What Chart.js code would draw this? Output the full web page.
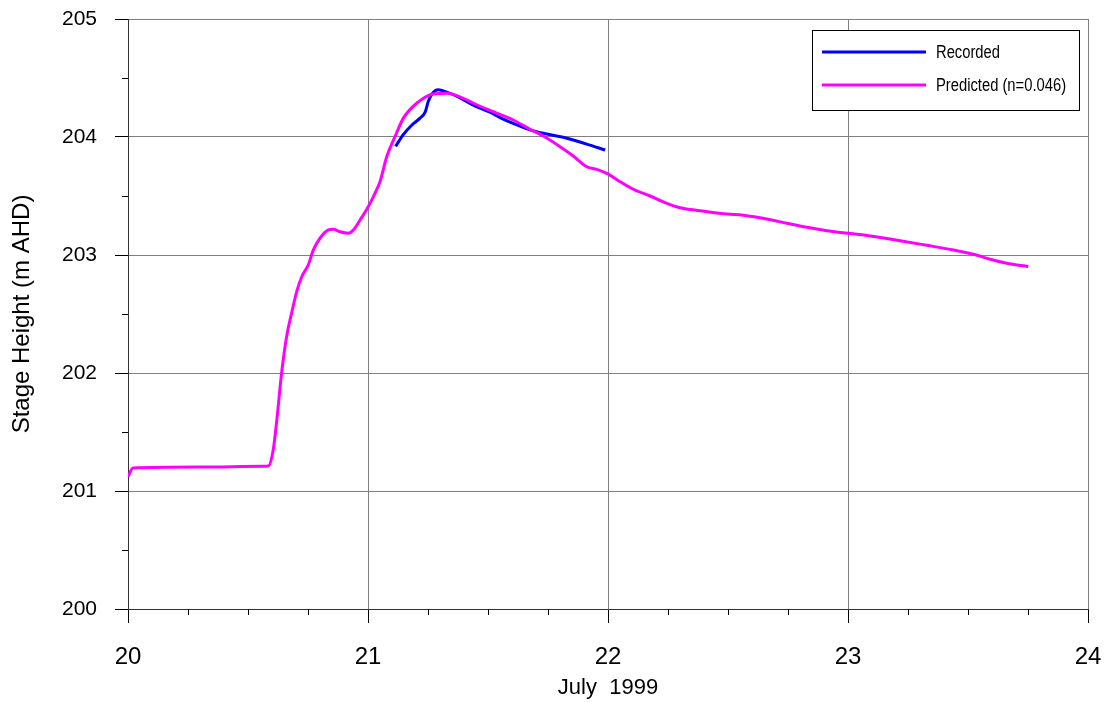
<!DOCTYPE html>
<html>
<head>
<meta charset="utf-8">
<script src="https://cdn.jsdelivr.net/npm/chart.js@4.4.1/dist/chart.umd.min.js"></script>
<style>
  html, body { margin: 0; padding: 0; background: #fff; }
  #wrap { width: 1106px; height: 702px; }
</style>
</head>
<body>
<div id="wrap"><canvas id="c" width="1106" height="702"></canvas></div>
<script>
// Day of July 1999 (decimal) and stage height (m AHD)
const recordedDay = [21.115, 21.147, 21.182, 21.217, 21.238, 21.251, 21.265, 21.293, 21.328, 21.376,
  21.439, 21.508, 21.55, 21.605, 21.675, 21.745, 21.828, 21.911, 21.988];
const recordedStage = [203.92, 204.02, 204.10, 204.16, 204.21, 204.30, 204.36, 204.40, 204.38, 204.34,
  204.27, 204.21, 204.165, 204.115, 204.06, 204.025, 203.99, 203.94, 203.89];

const predictedDay = [20.0, 20.021, 20.3, 20.5625, 20.585, 20.605, 20.62, 20.64, 20.661, 20.682,
  20.703, 20.724, 20.751, 20.772, 20.8, 20.835, 20.855, 20.883, 20.918, 20.939,
  20.967, 21.001, 21.029, 21.05, 21.078, 21.1125, 21.147, 21.203, 21.272, 21.328,
  21.397, 21.439, 21.522, 21.605, 21.675, 21.73, 21.8, 21.855, 21.911, 21.953,
  22.001, 22.05, 22.105, 22.175, 22.245, 22.3, 22.383, 22.495, 22.564, 22.661,
  22.745, 22.828, 22.911, 23.001, 23.092, 23.217, 23.328, 23.439, 23.522, 23.592,
  23.661, 23.751];
const predictedStage = [201.12, 201.195, 201.203, 201.21, 201.212, 201.347, 201.60, 202.0, 202.31, 202.51,
  202.69, 202.816, 202.915, 203.042, 203.142, 203.212, 203.218, 203.197, 203.184, 203.212,
  203.297, 203.409, 203.523, 203.621, 203.833, 204.003, 204.158, 204.286, 204.364, 204.37,
  204.328, 204.286, 204.214, 204.144, 204.065, 204.008, 203.918, 203.839, 203.748, 203.726,
  203.686, 203.621, 203.557, 203.5, 203.438, 203.401, 203.375, 203.347, 203.336, 203.305,
  203.269, 203.235, 203.206, 203.184, 203.161, 203.121, 203.082, 203.042, 203.006, 202.964,
  202.93, 202.901];

const dayTicks = [20, 21, 22, 23, 24];
const stageTicks = [200, 201, 202, 203, 204, 205];
const seriesLabels = ['Recorded', 'Predicted (n=0.046)'];

const toPoints = (xs, ys) => xs.map((x, i) => ({ x: x, y: ys[i] }));

const SANS = '"Liberation Sans", Arial, sans-serif';

// Minor tick marks: quarter days on x, half metres on y
const minorTicks = {
  id: 'minorTicks',
  afterDraw(chart) {
    const { ctx, chartArea } = chart;
    const xs = chart.scales.x, ys = chart.scales.y;
    ctx.save();
    ctx.strokeStyle = '#000';
    ctx.lineWidth = 1;
    ctx.beginPath();
    for (let d = xs.min; d < xs.max; d += 0.25) {
      if (Math.abs(d - Math.round(d)) < 1e-6) continue;
      const px = Math.round(xs.getPixelForValue(d)) + 0.5;
      ctx.moveTo(px, chartArea.bottom);
      ctx.lineTo(px, chartArea.bottom + 6);
    }
    for (let v = ys.min; v < ys.max; v += 0.5) {
      if (Math.abs(v - Math.round(v)) < 1e-6) continue;
      const py = Math.round(ys.getPixelForValue(v)) + 0.5;
      ctx.moveTo(chartArea.left, py);
      ctx.lineTo(chartArea.left - 6, py);
    }
    ctx.stroke();
    ctx.restore();
  }
};

// Boxed legend in the upper-right corner of the plot (condensed lettering)
const boxedLegend = {
  id: 'boxedLegend',
  afterDraw(chart) {
    const { ctx, chartArea } = chart;
    const left = chartArea.right - 276, top = chartArea.top + 11;
    const w = 267, h = 80;
    ctx.save();
    ctx.fillStyle = '#fff';
    ctx.fillRect(left, top, w, h);
    ctx.strokeStyle = '#000';
    ctx.lineWidth = 1;
    ctx.strokeRect(left + 0.5, top + 0.5, w, h);
    chart.data.datasets.forEach((ds, i) => {
      const y = top + 22 + i * 33;
      ctx.strokeStyle = ds.borderColor;
      ctx.lineWidth = 3;
      ctx.beginPath();
      ctx.moveTo(left + 10, y);
      ctx.lineTo(left + 114, y);
      ctx.stroke();
      ctx.save();
      ctx.translate(left + 124, y + 1);
      ctx.scale(0.82, 1);
      ctx.font = '18px ' + SANS;
      ctx.textBaseline = 'middle';
      ctx.fillStyle = '#000';
      ctx.fillText(ds.label, 0, 0);
      ctx.restore();
    });
    ctx.restore();
  }
};

new Chart(document.getElementById('c'), {
  type: 'line',
  data: {
    datasets: [
      {
        label: seriesLabels[0],
        data: toPoints(recordedDay, recordedStage),
        borderColor: '#0000ff',
        borderWidth: 3,
        pointRadius: 0,
        cubicInterpolationMode: 'monotone',
        order: 1
      },
      {
        label: seriesLabels[1],
        data: toPoints(predictedDay, predictedStage),
        borderColor: '#ff00ff',
        borderWidth: 3,
        pointRadius: 0,
        cubicInterpolationMode: 'monotone',
        order: 0
      }
    ]
  },
  options: {
    responsive: false,
    animation: false,
    layout: { padding: { top: 19, right: 18, left: 0, bottom: 0 } },
    plugins: { legend: { display: false }, tooltip: { enabled: false } },
    scales: {
      x: {
        type: 'linear',
        min: 20,
        max: 24,
        afterBuildTicks(scale) { scale.ticks = dayTicks.map(v => ({ value: v })); },
        afterFit(scale) {
          scale.height = 93;
          scale.paddingLeft = 0;
          scale.paddingRight = 0;
        },
        ticks: {
          color: '#000',
          font: { family: SANS, size: 24 },
          padding: 20,
          maxRotation: 0,
          callback: v => String(v)
        },
        grid: { color: '#808080', lineWidth: 1, tickColor: '#000', tickLength: 14 },
        border: { color: '#333', width: 1 },
        title: {
          display: true,
          text: 'July  1999',
          color: '#000',
          font: { family: SANS, size: 22 },
          padding: { top: 0, bottom: 1 }
        }
      },
      y: {
        type: 'linear',
        min: 200,
        max: 205,
        afterBuildTicks(scale) { scale.ticks = stageTicks.map(v => ({ value: v })); },
        afterFit(scale) {
          scale.width = 128;
          scale.paddingTop = 0;
          scale.paddingBottom = 0;
        },
        ticks: {
          color: '#000',
          font: { family: SANS, size: 21 },
          padding: 18,
          callback: v => String(v)
        },
        grid: { color: '#808080', lineWidth: 1, tickColor: '#000', tickLength: 13 },
        border: { color: '#333', width: 1 },
        title: {
          display: true,
          text: 'Stage Height (m AHD)',
          color: '#000',
          font: { family: SANS, size: 24 },
          padding: { top: 8, bottom: 0 }
        }
      }
    }
  },
  plugins: [minorTicks, boxedLegend]
});
</script>
</body>
</html>
